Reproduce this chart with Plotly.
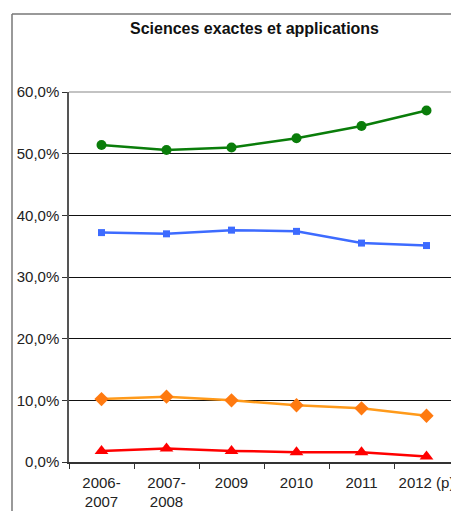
import plotly.graph_objects as go

categories = ["2006-<br>2007", "2007-<br>2008", "2009", "2010", "2011", "2012 (p)"]
green_vals = [51.4, 50.6, 51.0, 52.5, 54.5, 57.0]
blue_vals = [37.2, 37.0, 37.6, 37.4, 35.5, 35.1]
orange_vals = [10.2, 10.6, 10.0, 9.2, 8.7, 7.5]
red_vals = [1.8, 2.2, 1.8, 1.6, 1.6, 0.9]
y_tickvals = [0, 10, 20, 30, 40, 50, 60]
y_ticktext = ["0,0%", "10,0%", "20,0%", "30,0%", "40,0%", "50,0%", "60,0%"]

fig = go.Figure()
fig.add_trace(go.Scatter(x=categories, y=green_vals, mode="lines+markers",
                         line=dict(color="#0a7d0a", width=2.5),
                         marker=dict(symbol="circle", size=10, color="#0a7d0a")))
fig.add_trace(go.Scatter(x=categories, y=blue_vals, mode="lines+markers",
                         line=dict(color="#3d6bff", width=2.5),
                         marker=dict(symbol="square", size=7, color="#3d6bff")))
fig.add_trace(go.Scatter(x=categories, y=orange_vals, mode="lines+markers",
                         line=dict(color="#ff9a1a", width=2.5),
                         marker=dict(symbol="diamond", size=11, color="#ff7a10")))
fig.add_trace(go.Scatter(x=categories, y=red_vals, mode="lines+markers",
                         line=dict(color="#ff0000", width=2.5),
                         marker=dict(symbol="triangle-up", size=12, color="#ff0000")))

fig.update_layout(
    width=451, height=503,
    margin=dict(l=61, r=0, t=84, b=49),
    paper_bgcolor="white", plot_bgcolor="white",
    showlegend=False,
    font=dict(family="Liberation Sans, Arial", size=15, color="#222222"),
    xaxis=dict(type="category", range=[-0.5, 5.5], showgrid=False,
               showline=True, linecolor="#333333", linewidth=1.5,
               ticks="outside", tickson="boundaries", ticklen=5, tickcolor="#333333",
               ticklabelstandoff=6,
               tickfont=dict(size=15, color="#222222"), zeroline=False, fixedrange=True),
    yaxis=dict(range=[0, 60], tickvals=y_tickvals, ticktext=y_ticktext,
               showgrid=True, gridcolor="#111111", gridwidth=1.2,
               showline=True, linecolor="#555555", linewidth=1.5,
               ticks="outside", ticklen=5, tickcolor="#333333",
               tickfont=dict(size=15, color="#222222"), zeroline=False, fixedrange=True),
    annotations=[dict(text="<b>Sciences exactes et applications</b>", x=(254 - 69) / 390,
                      y=(462 - 28) / 370, xref="paper", yref="paper",
                      xanchor="center", yanchor="middle", showarrow=False,
                      font=dict(size=16, color="#111111"))],
    shapes=[
        dict(type="line", xref="paper", yref="paper", x0=(12 - 69) / 390, x1=1.05,
             y0=(462 - 14) / 370, y1=(462 - 14) / 370, line=dict(color="#777777", width=1.5)),
        dict(type="line", xref="paper", yref="paper", x0=(12 - 69) / 390, x1=(12 - 69) / 390,
             y0=(462 - 14) / 370, y1=-0.3, line=dict(color="#777777", width=1.5)),
        dict(type="line", xref="paper", yref="paper", x0=0, x1=1,
             y0=1, y1=1, line=dict(color="#888888", width=1.2)),
    ],
)
fig.write_html("out.html")
